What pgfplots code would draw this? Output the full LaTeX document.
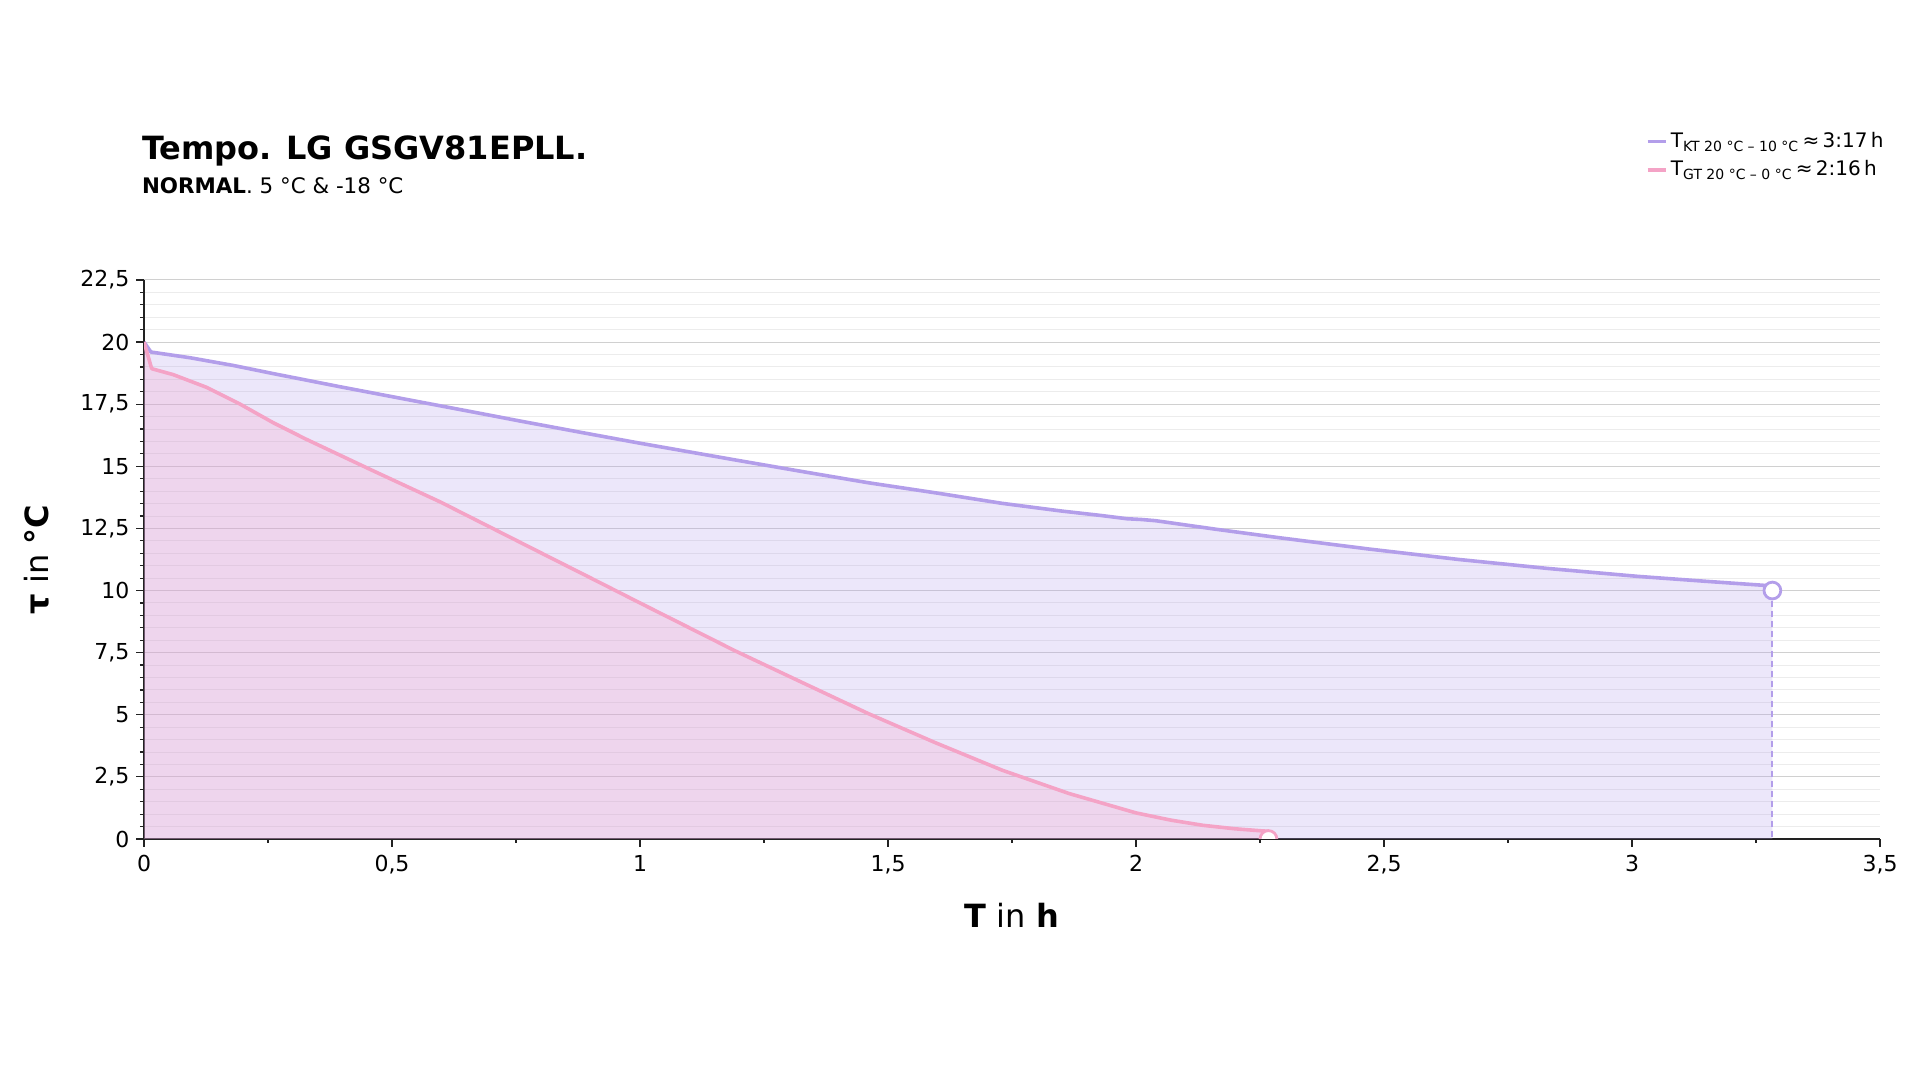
\documentclass[border=0pt]{standalone}
\usepackage{pgfplots}
\pgfplotsset{compat=1.18}
\usepackage{fontspec}
\setmainfont{DejaVu Sans}
\definecolor{pline}{RGB}{179,158,234}
\definecolor{kline}{RGB}{244,163,198}
\definecolor{majgrid}{RGB}{208,208,208}
\definecolor{mingrid}{RGB}{236,236,236}
\definecolor{axcol}{RGB}{34,34,34}
\pgfplotstableread{
x y
0 20
0.014 19.60
0.093 19.37
0.18 19.06
0.261 18.73
0.396 18.20
0.53 17.69
0.665 17.18
0.759 16.82
0.88 16.37
1.0 15.93
1.191 15.26
1.33 14.78
1.46 14.34
1.6 13.92
1.73 13.51
1.85 13.20
1.93 13.02
1.982 12.89
2.011 12.86
2.04 12.81
2.16 12.47
2.291 12.12
2.47 11.67
2.651 11.25
2.83 10.89
3.012 10.57
3.15 10.37
3.273 10.20
3.283 10.18
}\purple
\pgfplotstableread{
x y
0 20
0.0155 18.93
0.059 18.69
0.126 18.18
0.194 17.50
0.261 16.75
0.328 16.08
0.463 14.81
0.598 13.56
0.8 11.52
0.921 10.30
1.0 9.50
1.191 7.58
1.33 6.27
1.46 5.05
1.595 3.88
1.73 2.77
1.865 1.83
2.0 1.05
2.07 0.76
2.135 0.55
2.2 0.41
2.252 0.33
2.267 0.31
}\pink
\begin{document}
\begin{tikzpicture}
\path[use as bounding box] (0,0) rectangle (960pt,540pt);
\node[anchor=base west, inner sep=0pt, font=\fontsize{16}{19}\selectfont\bfseries] at (70.8pt,460.3pt) {Tempo. LG GSGV81EPLL.};
\node[anchor=base west, inner sep=0pt, font=\fontsize{10.7}{13}\selectfont] at (70.8pt,443.3pt) {\textbf{NORMAL}. 5 °C \& -18 °C};
\begin{axis}[
  at={(72pt,120.5pt)}, anchor=south west,
  scale only axis, width=868pt, height=279.5pt,
  xmin=0, xmax=3.5, ymin=0, ymax=22.5,
  axis x line*=bottom, axis y line*=left,
  axis line style={axcol, line width=0.9pt},
  xtick={0,0.5,...,3.5}, ytick={0,2.5,...,22.5},
  minor x tick num=1, minor y tick num=4,
  tick align=outside,
  major tick length=3.8pt, minor tick length=2pt,
  every tick/.style={axcol, line width=0.6pt},
  ymajorgrids, yminorgrids,
  major grid style={majgrid, line width=0.5pt},
  minor grid style={mingrid, line width=0.5pt},
  /pgf/number format/.cd, use comma, 1000 sep={}, assume math mode=true,
  /pgfplots/.cd,
  tick label style={font=\fontsize{11}{13}\selectfont},
  xticklabel style={yshift=-1pt},
  xlabel={\textbf{T} in \textbf{h}},
  ylabel={\textbf{τ} in \textbf{°C}},
  every axis x label/.style={at={(axis description cs:0.5,-0.136)}, anchor=center, font=\fontsize{16}{19}\selectfont},
  every axis y label/.style={at={(axis description cs:-0.0616,0.5)}, rotate=90, anchor=center, font=\fontsize{16}{19}\selectfont},
  clip marker paths=true,
  legend style={at={(axis description cs:1.004,1.27)}, anchor=north east, draw=none, fill=none,
    font=\fontsize{10}{12}\selectfont, inner sep=0pt, row sep=2pt,
    nodes={inner sep=1.5pt}},
  legend cell align=left,
  legend image code/.code={\draw[#1, line width=1.8pt] (0pt,0pt) -- (9.2pt,0pt);},
]
% fills
\addplot[forget plot, draw=none, fill=pline, fill opacity=0.25] table[x=x,y=y] {\purple} \closedcycle;
\addplot[forget plot, draw=none, fill=kline, fill opacity=0.25] table[x=x,y=y] {\pink} \closedcycle;
% dashed drop line
\addplot[forget plot, pline, line width=0.9pt, dash pattern=on 3.2pt off 1.8pt] coordinates {(3.283,10) (3.283,0)};
% lines
\addplot[pline, line width=1.8pt, mark=none, line join=round] table[x=x,y=y] {\purple};
\addlegendentry{T\textsubscript{KT 20 °C – 10 °C}\,≈\,3:17\,h}
\addplot[kline, line width=1.8pt, mark=none, line join=round] table[x=x,y=y] {\pink};
\addlegendentry{T\textsubscript{GT 20 °C – 0 °C}\,≈\,2:16\,h}
% end markers
\addplot[forget plot, only marks, mark=*, mark size=4.2pt, mark options={draw=pline, fill=white, line width=1.4pt}] coordinates {(3.283,10)};
\addplot[forget plot, only marks, mark=*, mark size=4.2pt, mark options={draw=kline, fill=white, line width=1.4pt}] coordinates {(2.267,0)};
\end{axis}
\end{tikzpicture}
\end{document}
